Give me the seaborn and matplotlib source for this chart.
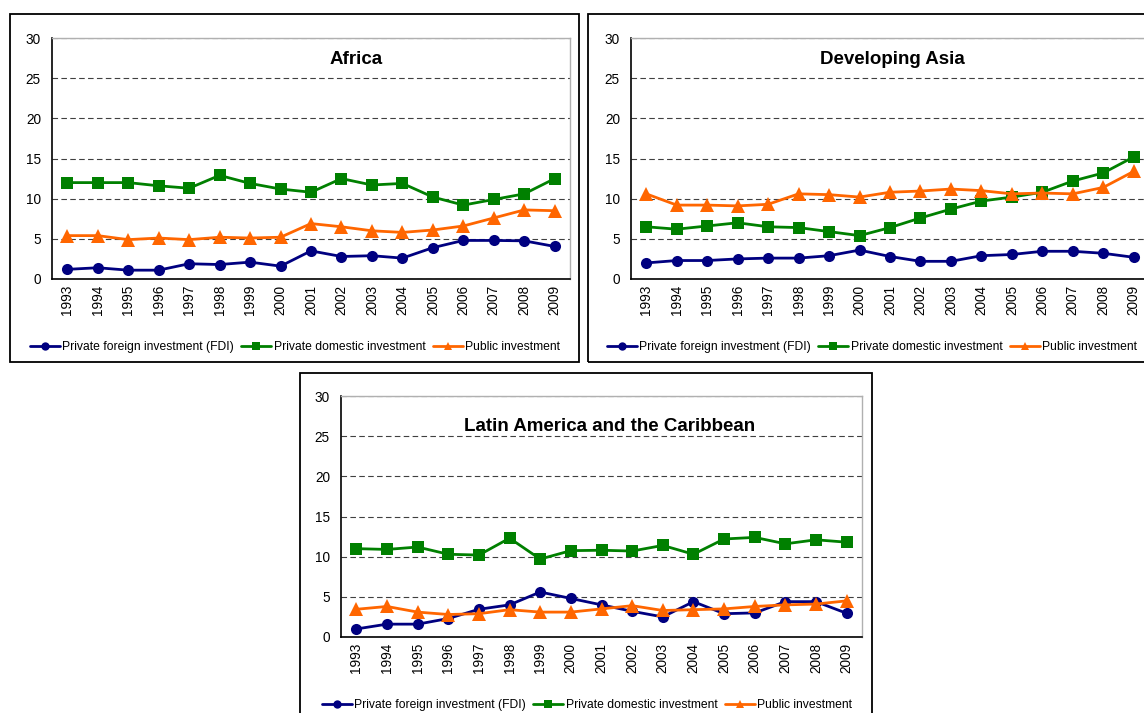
import matplotlib
matplotlib.use("Agg")
import matplotlib.pyplot as plt
from matplotlib.patches import Rectangle
from matplotlib.lines import Line2D
import seaborn as sns
import pandas as pd

sns.set_style("white")
plt.rcParams['font.family'] = ['Liberation Sans', 'DejaVu Sans']
plt.rcParams['text.color'] = 'black'
plt.rcParams['xtick.color'] = 'black'
plt.rcParams['ytick.color'] = 'black'

# DATA HERE
years = [str(y) for y in range(1993, 2010)]
series_names = ["Private foreign investment (FDI)", "Private domestic investment", "Public investment"]

africa_fdi = [1.2, 1.4, 1.1, 1.1, 1.9, 1.8, 2.1, 1.6, 3.5, 2.8, 2.9, 2.6, 3.9, 4.8, 4.8, 4.75, 4.05]
africa_dom = [12.0, 12.0, 12.0, 11.6, 11.3, 12.9, 11.9, 11.2, 10.8, 12.5, 11.7, 11.9, 10.2, 9.2, 9.9, 10.6, 12.5]
africa_pub = [5.4, 5.4, 4.9, 5.1, 4.9, 5.2, 5.1, 5.2, 6.9, 6.5, 6.0, 5.8, 6.1, 6.6, 7.6, 8.6, 8.5]

asia_fdi = [2.0, 2.3, 2.3, 2.5, 2.6, 2.6, 2.9, 3.6, 2.8, 2.2, 2.2, 2.9, 3.05, 3.45, 3.45, 3.2, 2.7]
asia_dom = [6.5, 6.2, 6.6, 7.0, 6.5, 6.4, 5.9, 5.4, 6.4, 7.6, 8.7, 9.7, 10.2, 10.8, 12.2, 13.2, 15.2]
asia_pub = [10.6, 9.2, 9.2, 9.1, 9.3, 10.6, 10.5, 10.2, 10.8, 10.95, 11.2, 11.0, 10.6, 10.7, 10.6, 11.4, 13.4]

latam_fdi = [1.0, 1.6, 1.6, 2.3, 3.45, 4.0, 5.6, 4.8, 4.0, 3.2, 2.5, 4.4, 2.9, 3.0, 4.4, 4.4, 2.95]
latam_dom = [11.0, 10.9, 11.2, 10.3, 10.2, 12.3, 9.7, 10.75, 10.8, 10.7, 11.4, 10.3, 12.2, 12.4, 11.6, 12.1, 11.8]
latam_pub = [3.45, 3.8, 3.1, 2.8, 2.9, 3.4, 3.1, 3.1, 3.5, 3.9, 3.3, 3.4, 3.5, 3.8, 4.0, 4.1, 4.5]

colors = ["#000080", "#008000", "#ff6600"]
markers = ["o", "s", "^"]

W, H = 1144, 713
fig = plt.figure(figsize=(W / 100, H / 100), dpi=100)


def px_rect(x0, y0, x1, y1):
    # pixel box (top-left origin) -> figure fraction [l, b, w, h]
    return [x0 / W, 1 - y1 / H, (x1 - x0) / W, (y1 - y0) / H]


def draw_panel(title, fdi, dom, pub, box, axbox, title_xy, legend_xy):
    # outer panel frame
    l, b, w, h = px_rect(*box)
    fig.patches.append(Rectangle((l, b), w, h, transform=fig.transFigure,
                                 fill=False, edgecolor="black", linewidth=1.3))

    ax = fig.add_axes(px_rect(*axbox))
    df = pd.DataFrame({
        "year": years * 3,
        "value": fdi + dom + pub,
        "series": [series_names[0]] * len(years) + [series_names[1]] * len(years)
                  + [series_names[2]] * len(years),
    })
    sns.lineplot(data=df, x="year", y="value", hue="series", style="series",
                 palette=colors, markers=markers, dashes=False, markersize=8,
                 markeredgewidth=0, linewidth=2, legend=False, ax=ax)
    # triangles look a bit bigger in the original
    for ln in ax.lines:
        if ln.get_marker() == "^":
            ln.set_markersize(10)

    ax.set_xlim(-0.5, len(years) - 0.5)
    ax.set_ylim(0, 30)
    ax.set_yticks(range(0, 31, 5))
    ax.set_xlabel("")
    ax.set_ylabel("")
    ax.tick_params(axis="x", labelrotation=90, labelsize=9.8, length=0, pad=4)
    ax.tick_params(axis="y", labelsize=9.8, length=0, pad=8)
    for lab in ax.get_xticklabels():
        lab.set_verticalalignment("top")

    ax.yaxis.grid(True, color="#404040", linestyle=(0, (5, 3)), linewidth=0.8)
    ax.xaxis.grid(False)
    ax.set_axisbelow(True)
    for side in ["left", "bottom"]:
        ax.spines[side].set_color("black")
        ax.spines[side].set_linewidth(1.2)
    for side in ["top", "right"]:
        ax.spines[side].set_color("#b0b0b0")
        ax.spines[side].set_linewidth(1)

    fig.text(title_xy[0] / W, 1 - title_xy[1] / H, title, ha="center", va="center",
             fontsize=13.5, fontweight="bold")

    handles = [Line2D([], [], color=c, marker=m, markersize=6, markeredgewidth=0, linewidth=2)
               for c, m in zip(colors, markers)]
    fig.legend(handles, series_names, loc="center",
               bbox_to_anchor=(legend_xy[0] / W, 1 - legend_xy[1] / H),
               ncol=3, frameon=False, fontsize=8.7, handlelength=2.5, handletextpad=0.2,
               columnspacing=0.6, borderpad=0)
    return ax


draw_panel("Africa", africa_fdi, africa_dom, africa_pub,
           (10, 14, 579, 362), (52, 38, 570, 279), (356, 60), (295, 347))
draw_panel("Developing Asia", asia_fdi, asia_dom, asia_pub,
           (588, 14, 1162, 362), (631, 38, 1149, 279), (892, 60), (872, 347))
draw_panel("Latin America and the Caribbean", latam_fdi, latam_dom, latam_pub,
           (300, 373, 872, 730), (341, 396, 862, 637), (610, 427), (587, 705))

fig.savefig("out.png", dpi=100)
